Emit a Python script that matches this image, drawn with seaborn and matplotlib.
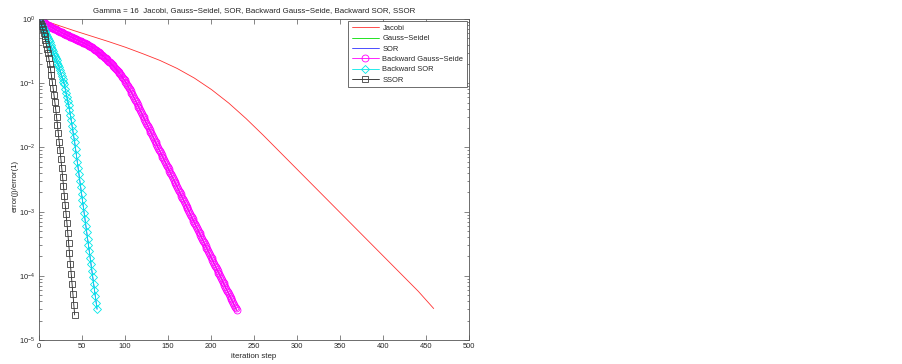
import numpy as np
import matplotlib
matplotlib.use("Agg")
import matplotlib.pyplot as plt
import seaborn as sns

# log10 of error(j)/error(1)
# Jacobi: plain line, sampled every 20 steps
JACOBI_STEPS = [1, 21, 41, 61, 81, 101, 121, 141, 161, 181, 201, 221, 241, 261,
                281, 301, 321, 341, 361, 381, 401, 421, 441, 459]
JACOBI_LOG = [0.0, -0.09, -0.18, -0.265, -0.35, -0.44, -0.54, -0.645, -0.77, -0.92,
              -1.10, -1.31, -1.55, -1.81, -2.08, -2.35, -2.62, -2.89, -3.16, -3.43,
              -3.70, -3.97, -4.24, -4.51]

# Backward Gauss-Seidel: one marker per iteration (1..230)
BGS_LOG = [
    0.0, -0.010, -0.019, -0.029, -0.038, -0.048, -0.057, -0.067, -0.076, -0.086,
    -0.095, -0.103, -0.110, -0.118, -0.125, -0.133, -0.140, -0.148, -0.155, -0.163,
    -0.170, -0.177, -0.183, -0.190, -0.196, -0.203, -0.209, -0.216, -0.222, -0.229,
    -0.235, -0.242, -0.248, -0.255, -0.261, -0.268, -0.274, -0.281, -0.287, -0.293,
    -0.299, -0.306, -0.312, -0.318, -0.325, -0.331, -0.337, -0.344, -0.350, -0.356,
    -0.362, -0.369, -0.375, -0.381, -0.388, -0.394, -0.400, -0.409, -0.417, -0.426,
    -0.434, -0.443, -0.451, -0.460, -0.468, -0.477, -0.488, -0.499, -0.510, -0.521,
    -0.532, -0.543, -0.554, -0.565, -0.576, -0.587, -0.600, -0.612, -0.625, -0.638,
    -0.651, -0.664, -0.676, -0.689, -0.702, -0.715, -0.731, -0.747, -0.763, -0.779,
    -0.795, -0.811, -0.827, -0.843, -0.859, -0.878, -0.897, -0.916, -0.935, -0.954,
    -0.977, -1.000, -1.023, -1.046, -1.069, -1.095, -1.121, -1.147, -1.173, -1.199,
    -1.227, -1.254, -1.282, -1.310, -1.338, -1.365, -1.393, -1.421, -1.449, -1.477,
    -1.505, -1.532, -1.560, -1.588, -1.616, -1.644, -1.671, -1.699, -1.727, -1.755,
    -1.783, -1.810, -1.838, -1.866, -1.894, -1.922, -1.949, -1.977, -2.005, -2.033,
    -2.061, -2.088, -2.116, -2.144, -2.172, -2.200, -2.227, -2.255, -2.283, -2.311,
    -2.339, -2.366, -2.394, -2.422, -2.450, -2.478, -2.505, -2.533, -2.561, -2.589,
    -2.617, -2.644, -2.672, -2.700, -2.728, -2.756, -2.783, -2.811, -2.839, -2.867,
    -2.895, -2.922, -2.950, -2.978, -3.006, -3.034, -3.061, -3.089, -3.117, -3.145,
    -3.173, -3.200, -3.228, -3.256, -3.284, -3.312, -3.339, -3.367, -3.395, -3.423,
    -3.451, -3.478, -3.506, -3.534, -3.562, -3.590, -3.617, -3.645, -3.673, -3.701,
    -3.729, -3.756, -3.784, -3.812, -3.840, -3.868, -3.895, -3.923, -3.951, -3.979,
    -4.007, -4.034, -4.062, -4.090, -4.118, -4.146, -4.173, -4.201, -4.229, -4.257,
    -4.285, -4.312, -4.340, -4.368, -4.396, -4.424, -4.451, -4.479, -4.507, -4.535,
]

# Backward SOR: one marker per iteration (1..68)
BSOR_LOG = [
    0.0, -0.03, -0.06, -0.09, -0.12, -0.15, -0.18, -0.21, -0.24, -0.27,
    -0.30, -0.33, -0.365, -0.40, -0.435, -0.47, -0.505, -0.54, -0.575, -0.61,
    -0.645, -0.68, -0.715, -0.75, -0.795, -0.84, -0.885, -0.93, -0.975, -1.02,
    -1.085, -1.15, -1.215, -1.28, -1.345, -1.41, -1.495, -1.58, -1.665, -1.75,
    -1.835, -1.92, -2.02, -2.12, -2.22, -2.32, -2.42, -2.52, -2.62, -2.72,
    -2.82, -2.92, -3.02, -3.12, -3.22, -3.32, -3.42, -3.52, -3.62, -3.72,
    -3.82, -3.92, -4.02, -4.12, -4.22, -4.32, -4.42, -4.52,
]

# SSOR: one marker per iteration (1..42)
SSOR_LOG = [
    0.0, -0.033, -0.071, -0.113, -0.160, -0.211, -0.267, -0.327, -0.392, -0.462,
    -0.536, -0.615, -0.698, -0.786, -0.878, -0.975, -1.077, -1.183, -1.294, -1.409,
    -1.529, -1.65, -1.78, -1.91, -2.04, -2.18, -2.32, -2.46, -2.60, -2.75,
    -2.89, -3.03, -3.17, -3.33, -3.49, -3.65, -3.81, -3.97, -4.13, -4.29,
    -4.45, -4.61,
]

# forward sweeps end up hidden under the backward ones
GS_LOG = BGS_LOG
SOR_LOG = BSOR_LOG

TITLE = "Gamma = 16  Jacobi, Gauss\u2212Seidel, SOR, Backward Gauss\u2212Seide, Backward SOR, SSOR"
LABELS = ["Jacobi", "Gauss\u2212Seidel", "SOR", "Backward Gauss\u2212Seide", "Backward SOR", "SSOR"]

sns.set_style("ticks")
plt.rcParams["font.family"] = ["Liberation Sans", "DejaVu Sans"]
plt.rcParams["axes.unicode_minus"] = True

fig = plt.figure(figsize=(9.02, 3.64), dpi=100)
ax = fig.add_axes([38.5 / 902, 1 - 340 / 364, (469 - 38.5) / 902, (340 - 19) / 364])


def steps(vals):
    return np.arange(1, len(vals) + 1)


def err(vals):
    return np.power(10.0, np.asarray(vals))


sns.lineplot(x=JACOBI_STEPS, y=err(JACOBI_LOG), ax=ax, color="#ff3030", lw=0.6, label=LABELS[0])
sns.lineplot(x=steps(GS_LOG), y=err(GS_LOG), ax=ax, color="#00dd00", lw=0.6, label=LABELS[1], sort=False)
sns.lineplot(x=steps(SOR_LOG), y=err(SOR_LOG), ax=ax, color="#3030ff", lw=0.6, label=LABELS[2], sort=False)
sns.lineplot(x=steps(BGS_LOG), y=err(BGS_LOG), ax=ax, color="#ff00ff", lw=0.6, label=LABELS[3],
             marker="o", ms=5.0, mfc="none", mec="#ff00ff", mew=0.6, sort=False)
sns.lineplot(x=steps(BSOR_LOG), y=err(BSOR_LOG), ax=ax, color="#00e8e8", lw=0.6, label=LABELS[4],
             marker="D", ms=3.9, mfc="none", mec="#00e8e8", mew=0.6, sort=False)
sns.lineplot(x=steps(SSOR_LOG), y=err(SSOR_LOG), ax=ax, color="#202020", lw=0.6, label=LABELS[5],
             marker="s", ms=4.4, mfc="none", mec="#404040", mew=0.6, sort=False)

ax.set_yscale("log")
ax.set_xlim(0, 500)
ax.set_ylim(1e-5, 1)
ax.set_xticks(np.arange(0, 501, 50))

for s in ax.spines.values():
    s.set_visible(True)
    s.set_linewidth(0.6)
    s.set_color("#555555")
ax.tick_params(which="both", direction="in", top=True, right=True, labelsize=5.4,
               width=0.5, color="#555555", pad=2.5)
ax.tick_params(which="major", length=3.5)
ax.tick_params(which="minor", length=1.8)

ax.set_title(TITLE, fontsize=5.7, pad=5)
ax.set_xlabel("iteration step", fontsize=5.7, labelpad=2)
ax.set_ylabel("error(j)/error(1)", fontsize=5.7)
ax.yaxis.set_label_coords(-0.047, 0.48)

leg = ax.legend(loc="upper right", fontsize=5.4, frameon=True, fancybox=False,
                edgecolor="#555555", borderaxespad=0.3, handlelength=3.6,
                handletextpad=0.5, labelspacing=0.42, borderpad=0.45, numpoints=1)
leg.get_frame().set_linewidth(0.6)
leg.get_frame().set_alpha(1)

fig.savefig("out.png", dpi=100)
